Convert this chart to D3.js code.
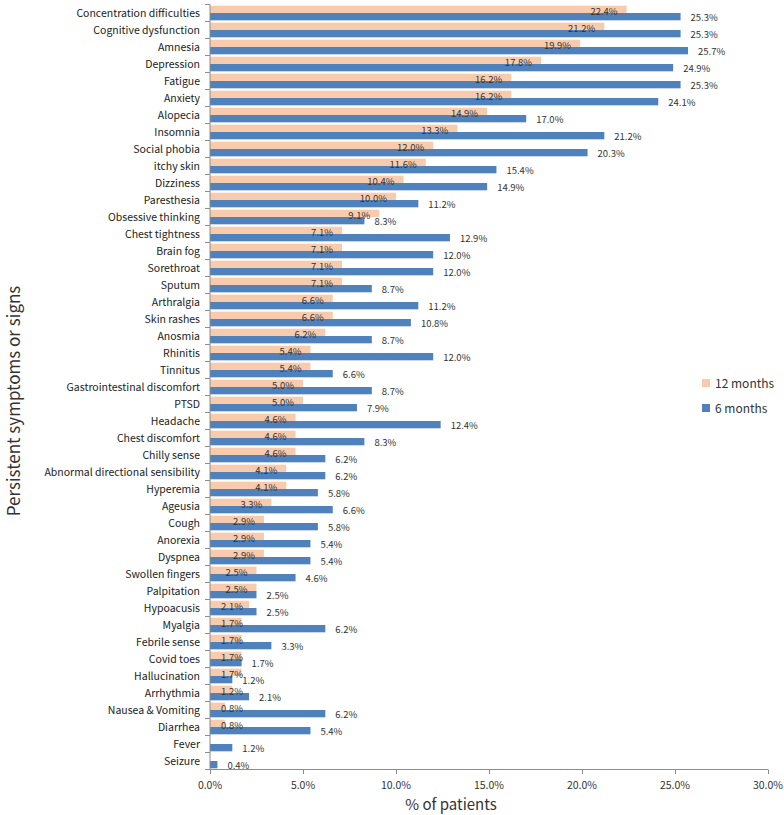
<!DOCTYPE html>
<html><head><meta charset="utf-8">
<script src="https://cdn.jsdelivr.net/npm/d3@7"></script>
<style>body{margin:0;background:#fff}svg{display:block}</style>
</head><body><svg id="c" width="784" height="815"></svg>
<script>
const categories = ["Concentration difficulties","Cognitive dysfunction","Amnesia","Depression","Fatigue","Anxiety","Alopecia","Insomnia","Social phobia","itchy skin","Dizziness","Paresthesia","Obsessive thinking","Chest tightness","Brain fog","Sorethroat","Sputum","Arthralgia","Skin rashes","Anosmia","Rhinitis","Tinnitus","Gastrointestinal discomfort","PTSD","Headache","Chest discomfort","Chilly sense","Abnormal directional sensibility","Hyperemia","Ageusia","Cough","Anorexia","Dyspnea","Swollen fingers","Palpitation","Hypoacusis","Myalgia","Febrile sense","Covid toes","Hallucination","Arrhythmia","Nausea & Vomiting","Diarrhea","Fever","Seizure"];
const months12 = [22.4,21.2,19.9,17.8,16.2,16.2,14.9,13.3,12.0,11.6,10.4,10.0,9.1,7.1,7.1,7.1,7.1,6.6,6.6,6.2,5.4,5.4,5.0,5.0,4.6,4.6,4.6,4.1,4.1,3.3,2.9,2.9,2.9,2.5,2.5,2.1,1.7,1.7,1.7,1.7,1.2,0.8,0.8,null,null];
const months6 = [25.3,25.3,25.7,24.9,25.3,24.1,17.0,21.2,20.3,15.4,14.9,11.2,8.3,12.9,12.0,12.0,8.7,11.2,10.8,8.7,12.0,6.6,8.7,7.9,12.4,8.3,6.2,6.2,5.8,6.6,5.8,5.4,5.4,4.6,2.5,2.5,6.2,3.3,1.7,1.2,2.1,6.2,5.4,1.2,0.4];
const seriesNames = ["12 months","6 months"];
const xTicks = [0,5,10,15,20,25,30];

const colors = ["#F8CBAD","#4F81BD"];
const FONT = "'Noto Sans CJK KR','Noto Sans',sans-serif";
const svg = d3.select("#c");
const x = d3.scaleLinear().domain([0,30]).range([210,768]);
const y = d3.scaleBand().domain(categories).range([4.5,769.5]).paddingInner(0.14).paddingOuter(0.07);
const yFull = d3.scaleBand().domain(categories).range([4.5,769.5]);
const sub = d3.scaleBand().domain([0,1]).range([0,y.bandwidth()]);

const data = categories.map((c,i)=>({c, v:[months12[i],months6[i]]}));

// bars
const g = svg.append("g");
data.forEach(d=>{
  d.v.forEach((v,k)=>{
    if(v==null) return;
    g.append("rect").attr("x",x(0)).attr("y",y(d.c)+sub(k))
     .attr("width",x(v)-x(0)).attr("height",sub.bandwidth()).attr("fill",colors[k]);
  });
});

// labels
const lab = svg.append("g").attr("font-family",FONT).attr("font-size","9.5px").attr("fill","#333");
data.forEach(d=>{
  const v0=d.v[0], v1=d.v[1];
  if(v0!=null){
    const t = lab.append("text").text(v0.toFixed(1)+"%")
      .attr("y",y(d.c)+sub(0)+sub.bandwidth()+1.5);
    const w = t.node().getComputedTextLength();
    const sx = Math.max(x(v0)-9-w, x(0)+11);
    t.attr("x",sx);
  }
  if(v1!=null){
    lab.append("text").text(v1.toFixed(1)+"%")
      .attr("x",x(v1)+10).attr("y",y(d.c)+sub(1)+sub.bandwidth()/2+4.5);
  }
});

// axes
const axisColor = "#8c8c8c";
const ax = svg.append("g");
ax.append("line").attr("x1",x(0)).attr("x2",x(0)).attr("y1",4.5).attr("y2",769.5).attr("stroke",axisColor);
ax.append("line").attr("x1",x(0)).attr("x2",x(30)).attr("y1",769.5).attr("y2",769.5).attr("stroke",axisColor);
categories.forEach(c=>{
  ax.append("line").attr("x1",x(0)-5).attr("x2",x(0)).attr("y1",yFull(c)).attr("y2",yFull(c)).attr("stroke",axisColor);
});
ax.append("line").attr("x1",x(0)-5).attr("x2",x(0)).attr("y1",769.5).attr("y2",769.5).attr("stroke",axisColor);
xTicks.forEach(t=>{
  ax.append("line").attr("x1",x(t)+0.5).attr("x2",x(t)+0.5).attr("y1",769.5).attr("y2",774).attr("stroke",axisColor);
  ax.append("text").attr("x",x(t)).attr("y",789).attr("text-anchor","middle")
    .attr("font-family",FONT).attr("font-size","10.5px").attr("fill","#333").text(t.toFixed(1)+"%");
});
categories.forEach(c=>{
  ax.append("text").attr("x",200).attr("y",yFull(c)+yFull.bandwidth()/2+3.5).attr("text-anchor","end")
    .attr("font-family",FONT).attr("font-size","10.5px").attr("fill","#222").text(c);
});

// titles
svg.append("text").attr("x",451).attr("y",810).attr("text-anchor","middle")
  .attr("font-family",FONT).attr("font-size","15px").attr("fill","#333").text("% of patients");
svg.append("text").attr("transform","translate(20,401) rotate(-90)").attr("text-anchor","middle")
  .attr("font-family",FONT).attr("font-size","17px").attr("fill","#333").text("Persistent symptoms or signs");

// legend
const leg = svg.append("g");
seriesNames.forEach((n,k)=>{
  const yy = [383,408][k];
  leg.append("rect").attr("x",702).attr("y",yy-4).attr("width",8).attr("height",8).attr("fill",colors[k]);
  leg.append("text").attr("x",715).attr("y",yy+4.5).attr("font-family",FONT).attr("font-size","12px").attr("fill","#333").text(n);
});
</script></body></html>
